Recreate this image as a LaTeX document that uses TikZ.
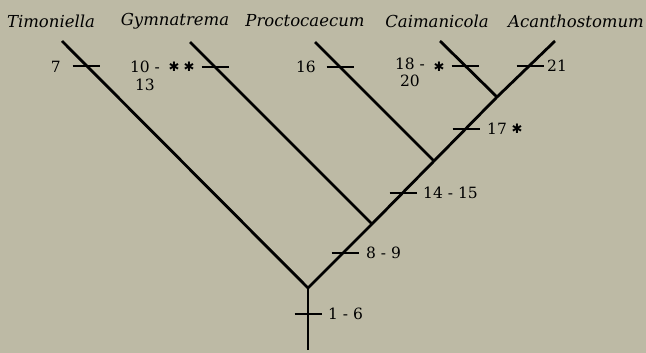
\documentclass[tikz,border=0pt]{standalone}
\usepackage{fontspec}
\setmainfont{DejaVu Serif}
\newfontfamily\starfont{DejaVu Sans}
\definecolor{bgc}{RGB}{189,186,165}
\begin{document}
\begin{tikzpicture}[x=1pt,y=-1pt,
  branch/.style={line width=2.8pt,line cap=butt},
  tickmark/.style={line width=2.5pt},
  taxon/.style={font=\fontsize{16.5}{18}\selectfont\itshape,inner sep=0pt},
  num/.style={font=\fontsize{15.5}{17}\selectfont,inner sep=0pt},
  star/.style={font=\starfont\fontsize{13}{14}\selectfont,inner sep=0pt}]
\fill[bgc] (0,0) rectangle (646,353);
\useasboundingbox (0,0) rectangle (646,353);
% nodes of the tree
\coordinate (B) at (308,350);
\coordinate (R) at (308,288);
\coordinate (J1) at (372,224);
\coordinate (J2) at (434,161);
\coordinate (J3) at (497,97);
\coordinate (T) at (62,41);
\coordinate (G) at (190,42);
\coordinate (P) at (315,42);
\coordinate (C) at (440,41);
\coordinate (A) at (555,41);
% branches
\draw[branch] (B) -- (R);
\draw[branch] (T) -- (R) -- (J1) -- (J2) -- (J3) -- (A);
\draw[branch] (G) -- (J1);
\draw[branch] (P) -- (J2);
\draw[branch] (C) -- (J3);
% tick centres
\coordinate (t7) at (86,66);
\coordinate (t10) at (215,67);
\coordinate (t16) at (340,67);
\coordinate (t18) at (465,66);
\coordinate (t21) at (530,66);
\coordinate (t17) at (466,129);
\coordinate (t14) at (403,193);
\coordinate (t8) at (345,253);
\coordinate (t1) at (308,314);
\foreach \t in {t7,t10,t16,t18,t21,t17,t14,t8,t1}
  \draw[tickmark] ([xshift=-13.5pt]\t) -- ([xshift=13.5pt]\t);
% taxa
\node[taxon] (nT) at (51,21) {Timoniella};
\node[taxon] (nG) at (175,21) {Gymnatrema};
\node[taxon] (nP) at (305,21) {Proctocaecum};
\node[taxon] (nC) at (437,21) {Caimanicola};
\node[taxon] (nA) at (576,21) {Acanthostomum};
% character labels
\node[num,anchor=east] (l7) at (61,67) {7};
\node[num,align=center] (l10) at (145,76) {10 -\\[1pt]13};
\node[star] (s10a) at (174,67) {✱};
\node[star] (s10b) at (189,67) {✱};
\node[num] (l16) at (306,67) {16};
\node[num,align=center] (l18) at (410,72) {18 -\\20};
\node[star] (s18) at (439,67) {✱};
\node[num,anchor=west] (l21) at (547,66) {21};
\node[num,anchor=west] (l17) at (487,129) {17};
\node[star] (s17) at (517,129) {✱};
\node[num,anchor=west] (l14) at (423,193) {14 - 15};
\node[num,anchor=west] (l8) at (366,253) {8 - 9};
\node[num,anchor=west] (l1) at (328,314) {1 - 6};
\end{tikzpicture}
\end{document}
